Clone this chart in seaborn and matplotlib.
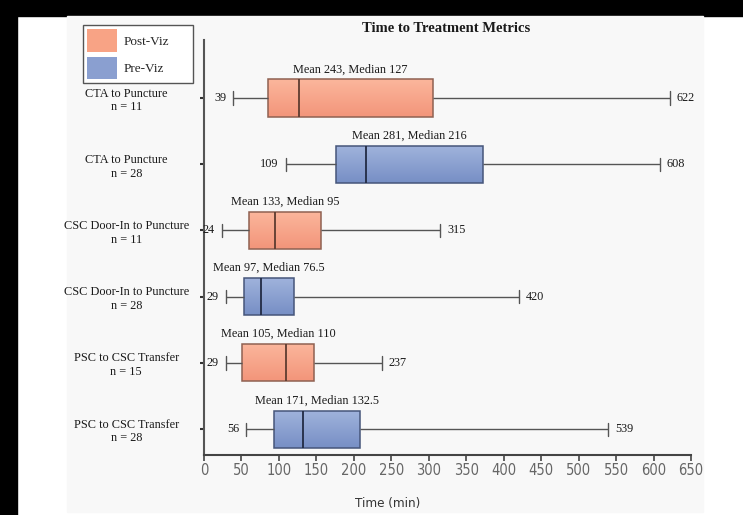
import numpy as np
import pandas as pd
import matplotlib
matplotlib.use("Agg")
import matplotlib.pyplot as plt
from matplotlib.patches import Patch, Rectangle
from matplotlib.colors import LinearSegmentedColormap
import seaborn as sns

# ---- data -------------------------------------------------------------
metrics = [
    "CTA to Puncture\nn = 11",
    "CTA to Puncture\nn = 28",
    "CSC Door-In to Puncture\nn = 11",
    "CSC Door-In to Puncture\nn = 28",
    "PSC to CSC Transfer\nn = 15",
    "PSC to CSC Transfer\nn = 28",
]
groups = ["Post-Viz", "Pre-Viz", "Post-Viz", "Pre-Viz", "Post-Viz", "Pre-Viz"]
mins = [39, 109, 24, 29, 29, 56]
q1s = [85, 176, 60, 53, 51, 93]
medians = [127, 216, 95, 76.5, 110, 132.5]
q3s = [305, 372, 156, 120, 147, 208]
maxs = [622, 608, 315, 420, 237, 539]
means = [243, 281, 133, 97, 105, 171]
x_ticks = list(range(0, 651, 50))

# five-number summary of each metric as a long table
rows = []
for m, g, a, b, c, d, e in zip(metrics, groups, mins, q1s, medians, q3s, maxs):
    for v in (a, b, c, d, e):
        rows.append({"metric": m, "group": g, "minutes": v})
df = pd.DataFrame(rows)

styles = {
    "Post-Viz": dict(top="#fbb69c", bottom="#f3957a", edge="#8f6152",
                     median="#5e3c30", legend="#f8a385"),
    "Pre-Viz": dict(top="#a0b3dc", bottom="#778fc5", edge="#46557a",
                    median="#222b44", legend="#8a9fd0"),
}

sns.set_style("white")
plt.rcParams["font.family"] = ["Liberation Serif", "DejaVu Serif"]

W, H = 743, 515
fig = plt.figure(figsize=(W / 100, H / 100), dpi=100)
fig.patch.set_facecolor("white")

# page frame: dark bands at top/left and a light panel behind the chart
fig.add_artist(Rectangle((0, 1 - 16 / H), 1, 16 / H, transform=fig.transFigure,
                         color="black", zorder=0))
fig.add_artist(Rectangle((0, 0), 17 / W, 1, transform=fig.transFigure,
                         color="black", zorder=0))
fig.add_artist(Rectangle((67 / W, 3 / H), (703 - 67) / W, (499 - 3) / H,
                         transform=fig.transFigure, color="#f8f8f8", zorder=0))

ax = fig.add_axes([204 / W, 60 / H, 487 / W, 415 / H])
ax.set_facecolor("none")

for g in ("Post-Viz", "Pre-Viz"):
    st = styles[g]
    sns.boxplot(
        data=df[df["group"] == g], x="minutes", y="metric", order=metrics,
        orient="h", width=0.56, whis=(0, 100), color=st["bottom"],
        linecolor=st["edge"], linewidth=1.1,
        medianprops={"color": st["median"], "linewidth": 1.3},
        whiskerprops={"color": "#555555", "linewidth": 1.0},
        capprops={"color": "#555555", "linewidth": 1.0},
        capwidths=0.2, ax=ax,
    )

# vertical colour gradient inside each box
for patch in list(ax.patches):
    fc = patch.get_facecolor()
    g = "Post-Viz" if fc[0] > fc[2] else "Pre-Viz"
    st = styles[g]
    ext = patch.get_path().get_extents()
    cmap = LinearSegmentedColormap.from_list(g, [st["top"], st["bottom"]])
    grad = np.linspace(0, 1, 64).reshape(-1, 1)
    im = ax.imshow(grad, cmap=cmap, aspect="auto", origin="upper",
                   extent=(ext.x0, ext.x1, ext.y1, ext.y0), zorder=1.9,
                   interpolation="bilinear")
    im.set_clip_path(patch)
    patch.set_facecolor("none")
    patch.set_zorder(2)

ax.set_xlim(0, 650)
ax.set_ylim(5.39, -0.876)


def fmt(v):
    return f"{v:g}"


txt = dict(fontsize=8.8, color="#1a1a1a")
for i in range(len(metrics)):
    ax.annotate(f"Mean {fmt(means[i])}, Median {fmt(medians[i])}",
                xy=((q1s[i] + q3s[i]) / 2, i - 0.28), xytext=(0, 3),
                textcoords="offset points", ha="center", va="bottom", **txt)
    ax.annotate(fmt(mins[i]), xy=(mins[i], i), xytext=(-5, 0),
                textcoords="offset points", ha="right", va="center", **txt)
    ax.annotate(fmt(maxs[i]), xy=(maxs[i], i), xytext=(5, 0),
                textcoords="offset points", ha="left", va="center", **txt)

# axes styling
for side in ("top", "right"):
    ax.spines[side].set_visible(False)
ax.spines["left"].set_color("#555555")
ax.spines["left"].set_linewidth(1.5)
ax.spines["bottom"].set_color("#444444")
ax.spines["bottom"].set_linewidth(1.5)

ax.set_ylabel("")
ax.tick_params(axis="y", left=True, length=3, width=1.5, color="#333333",
               pad=53, labelsize=8.8, labelcolor="#1a1a1a")
for lab in ax.get_yticklabels():
    lab.set_horizontalalignment("center")
    lab.set_multialignment("center")

narrow = ["DejaVu Sans"]
ax.set_xticks(x_ticks)
ax.set_xticklabels([str(t) for t in x_ticks], family=narrow,
                   fontstretch="condensed", fontsize=10.5, color="#666666")
ax.tick_params(axis="x", bottom=True, length=4, width=1.2, color="#444444",
               pad=2)
ax.set_xlabel("Time (min)", family=narrow, fontstretch="condensed",
              fontsize=9.5, color="#333333")
ax.xaxis.set_label_coords((388 - 204) / 487, -(497 - 455) / 415)

fig.text(446 / W, 1 - 29 / H, "Time to Treatment Metrics", ha="center",
         va="center", fontsize=10.5, fontweight="bold", color="#1a1a1a")

handles = [Patch(facecolor=styles[g]["legend"], edgecolor="none", label=g)
           for g in ("Post-Viz", "Pre-Viz")]
leg = fig.legend(handles=handles, loc="upper left",
                 bbox_to_anchor=(83 / W, 1 - 83 / H, 110 / W, 58 / H),
                 mode="expand", borderaxespad=0,
                 frameon=True, fancybox=False, framealpha=1,
                 edgecolor="#555555", facecolor="white", fontsize=9.5,
                 handlelength=2.3, handleheight=2.3, labelspacing=0.35,
                 handletextpad=0.45, borderpad=0.3)
leg.get_frame().set_linewidth(1.0)

fig.savefig("out.png", dpi=100)
